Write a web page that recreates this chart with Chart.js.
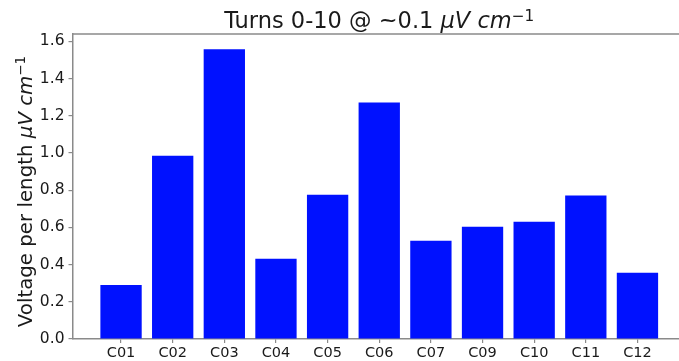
<!DOCTYPE html>
<html>
<head>
<meta charset="utf-8">
<script src="https://cdn.jsdelivr.net/npm/chart.js@4/dist/chart.umd.min.js"></script>
<style>
  html, body { margin: 0; padding: 0; background: #fff; overflow: hidden; }
  #wrap { width: 679px; height: 361px; overflow: hidden; }
  #box { width: 700px; height: 361px; }
</style>
</head>
<body>
<div id="wrap"><div id="box"><canvas id="chart"></canvas></div></div>
<script>
// data
const categories = ['C01', 'C02', 'C03', 'C04', 'C05', 'C06', 'C07', 'C09', 'C10', 'C11', 'C12']
const values = [0.29, 0.985, 1.558, 0.431, 0.775, 1.272, 0.528, 0.604, 0.63, 0.771, 0.356]
const yTicks = [0.0, 0.2, 0.4, 0.6, 0.8, 1.0, 1.2, 1.4, 1.6]
const yMin = 0
const yMax = 1.64

const FONT = "'DejaVu Sans', sans-serif"
const AXIS = '#8a8a8a'
const TEXT = '#1a1a1a'

// title / ylabel pieces (matplotlib mathtext look)
const titleParts = [
  { t: 'Turns 0-10 @ ~0.1 ' },
  { t: 'μV cm', italic: true },
  { t: '−1', sup: true }
]
const ylabelParts = [
  { t: 'Voltage per length ' },
  { t: 'μV cm', italic: true },
  { t: '−1', sup: true }
]

const fontFor = (p, size) => (p.italic ? 'italic ' : '') + (p.sup ? size * 0.68 : size) + 'px ' + FONT

function drawRich(ctx, parts, size, cx, baseline) {
  let total = 0
  parts.forEach(p => {
    ctx.font = fontFor(p, size)
    p.w = ctx.measureText(p.t).width
    total += p.w
  })
  let x = cx - total / 2
  ctx.textAlign = 'left'
  ctx.textBaseline = 'alphabetic'
  parts.forEach(p => {
    ctx.font = fontFor(p, size)
    ctx.fillText(p.t, x, p.sup ? baseline - size * 0.33 : baseline)
    x += p.w
  })
}

const decor = {
  id: 'decor',
  afterDraw(chart) {
    const { ctx, chartArea } = chart
    ctx.save()
    // top spine
    ctx.strokeStyle = AXIS
    ctx.lineWidth = 1.5
    ctx.beginPath()
    ctx.moveTo(chartArea.left, chartArea.top)
    ctx.lineTo(chartArea.right, chartArea.top)
    ctx.stroke()

    ctx.fillStyle = TEXT
    drawRich(ctx, titleParts, 22.5, (chartArea.left + chartArea.right) / 2, 28)

    ctx.translate(32, (chartArea.top + chartArea.bottom) / 2 + 5)
    ctx.rotate(-Math.PI / 2)
    drawRich(ctx, ylabelParts, 19.8, 0, 0)
    ctx.restore()
  }
}

const ctx = document.getElementById('chart').getContext('2d')

new Chart(ctx, {
  type: 'bar',
  data: {
    datasets: [{
      data: values.map((v, i) => ({ x: i, y: v })),
      backgroundColor: '#0011ff',
      borderWidth: 0,
      barPercentage: 0.8,
      categoryPercentage: 1
    }]
  },
  options: {
    responsive: true,
    maintainAspectRatio: false,
    devicePixelRatio: 1,
    animation: false,
    layout: { padding: { top: 34, right: 14, left: 0, bottom: 0 } },
    plugins: {
      legend: { display: false },
      tooltip: { enabled: false }
    },
    scales: {
      x: {
        type: 'linear',
        min: -0.94,
        max: 10.94,
        offset: false,
        afterBuildTicks: (scale) => {
          scale.ticks = categories.map((c, i) => ({ value: i }))
        },
        afterFit: (scale) => { scale.height = 22 },
        grid: { offset: false, drawOnChartArea: false, drawTicks: true, tickLength: 4, color: AXIS, lineWidth: 1.2 },
        border: { display: true, color: AXIS, width: 1.5 },
        ticks: {
          autoSkip: false,
          maxRotation: 0,
          padding: 2,
          color: TEXT,
          font: { family: FONT, size: 14.5 },
          callback: (v) => categories[v]
        }
      },
      y: {
        min: yMin,
        max: yMax,
        afterBuildTicks: (scale) => {
          scale.ticks = yTicks.map(v => ({ value: v }))
        },
        afterFit: (scale) => { scale.width = 72.5 },
        grid: { drawOnChartArea: false, drawTicks: true, tickLength: 4, color: AXIS, lineWidth: 1.2 },
        border: { display: true, color: AXIS, width: 1.5 },
        ticks: {
          padding: 4,
          color: TEXT,
          font: { family: FONT, size: 15.5 },
          callback: (v) => v.toFixed(1)
        }
      }
    }
  },
  plugins: [decor]
})
</script>
</body>
</html>
